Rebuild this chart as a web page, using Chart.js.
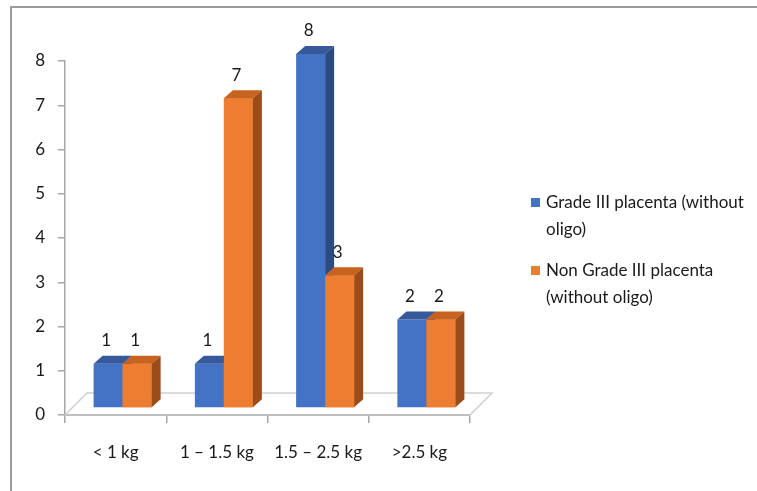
<!DOCTYPE html>
<html>
<head>
<meta charset="utf-8">
<script src="https://cdn.jsdelivr.net/npm/chart.js@4/dist/chart.umd.min.js"></script>
<style>
  body { margin: 0; background: #fff; }
  #wrap { width: 757px; height: 491px; }
</style>
</head>
<body>
<div id="wrap"><canvas id="chart" width="757" height="491"></canvas></div>
<script>
const categories = ["< 1 kg", "1 \u2013 1.5 kg", "1.5 \u2013 2.5 kg", ">2.5 kg"];
const gradeIII = [1, 1, 8, 2];
const nonGradeIII = [1, 7, 3, 2];
const seriesNames = ["Grade III placenta (without oligo)", "Non Grade III placenta (without oligo)"];
const legendLines = [["Grade III placenta (without", "oligo)"], ["Non Grade III placenta", "(without oligo)"]];
const yMin = 0, yMax = 8, yStep = 1;

const fronts = ['#4472C4', '#ED7D31'];
const tops = ['#36599C', '#C8621F'];
const sides = ['#2B4A80', '#9C4C18'];

const FONT = 'Lato, "Open Sans", sans-serif';
const TEXT = '#1a1a1a';
const DX = 9, DY = 8;             // bar depth
const SHIFT_X = 7, SHIFT_Y = -7;  // bars stand in the middle of the floor
const FLOOR = 22;                 // floor depth

function drawFaces(ctx, bar, i) {
  const p = bar.getProps(['x', 'y', 'base', 'width'], true);
  const l = p.x - p.width / 2, r = p.x + p.width / 2;
  ctx.fillStyle = tops[i];
  ctx.beginPath();
  ctx.moveTo(l, p.y);
  ctx.lineTo(l + DX, p.y - DY);
  ctx.lineTo(r + DX, p.y - DY);
  ctx.lineTo(r, p.y);
  ctx.closePath();
  ctx.fill();
  ctx.fillStyle = sides[i];
  ctx.beginPath();
  ctx.moveTo(r, p.y);
  ctx.lineTo(r + DX, p.y - DY);
  ctx.lineTo(r + DX, p.base - DY);
  ctx.lineTo(r, p.base);
  ctx.closePath();
  ctx.fill();
}

const bars3d = {
  id: 'bars3d',
  beforeDraw(chart) {
    const ctx = chart.ctx;
    ctx.save();
    ctx.strokeStyle = '#9b9b9b';
    ctx.lineWidth = 2;
    ctx.beginPath();
    ctx.moveTo(11, 491);
    ctx.lineTo(11, 7);
    ctx.lineTo(757, 7);
    ctx.stroke();
    ctx.restore();
  },
  beforeDatasetsDraw(chart) {
    const {ctx, scales: {x, y}} = chart;
    const y0 = y.getPixelForValue(0);
    ctx.save();
    ctx.strokeStyle = '#cfcfcf';
    ctx.lineWidth = 1.5;
    ctx.beginPath();
    ctx.moveTo(x.left, y0);
    ctx.lineTo(x.left + FLOOR, y0 - FLOOR);
    ctx.lineTo(x.right + FLOOR, y0 - FLOOR);
    ctx.lineTo(x.right, y0);
    ctx.stroke();
    ctx.restore();
    ctx.save();
    ctx.translate(SHIFT_X, SHIFT_Y);
  },
  afterDatasetsDraw(chart) {
    const ctx = chart.ctx;
    const metas = chart.data.datasets.map((d, i) => chart.getDatasetMeta(i));
    categories.forEach((c, j) => {
      metas.forEach((meta, i) => {
        if (i > 0) meta.data[j].draw(ctx);
        drawFaces(ctx, meta.data[j], i);
      });
    });
    // value labels
    ctx.fillStyle = TEXT;
    ctx.font = '17px ' + FONT;
    ctx.textAlign = 'center';
    ctx.textBaseline = 'middle';
    metas.forEach((meta, i) => {
      meta.data.forEach((bar, j) => {
        ctx.fillText(chart.data.datasets[i].data[j], bar.x - 2, bar.y - 23);
      });
    });
    ctx.restore();
  },
  afterDraw(chart) {
    // legend, wrapped like the original
    const ctx = chart.ctx;
    ctx.save();
    ctx.font = '17px ' + FONT;
    ctx.textAlign = 'left';
    ctx.textBaseline = 'middle';
    const firstY = [203, 271];
    legendLines.forEach((lines, i) => {
      ctx.fillStyle = fronts[i];
      ctx.fillRect(531, firstY[i] - 5, 9, 9);
      ctx.fillStyle = TEXT;
      lines.forEach((t, k) => ctx.fillText(t, 546, firstY[i] + k * 27));
    });
    ctx.restore();
  }
};

new Chart(document.getElementById('chart'), {
  type: 'bar',
  data: {
    labels: categories,
    datasets: [
      { label: seriesNames[0], data: gradeIII, backgroundColor: fronts[0] },
      { label: seriesNames[1], data: nonGradeIII, backgroundColor: fronts[1] }
    ]
  },
  options: {
    responsive: false,
    animation: false,
    layout: { padding: { top: 61, right: 287, bottom: 0, left: 0 } },
    datasets: { bar: { categoryPercentage: 0.573, barPercentage: 1, clip: false } },
    plugins: {
      legend: { display: false },
      tooltip: { enabled: false }
    },
    scales: {
      x: {
        afterFit(s) { s.height = 76; },
        grid: { offset: true, drawOnChartArea: false, tickLength: 8, color: '#a6a6a6', lineWidth: 1.5 },
        border: { color: '#bfbfbf', width: 2 },
        ticks: { color: TEXT, font: { family: FONT, size: 17 }, padding: 19, maxRotation: 0 }
      },
      y: {
        min: yMin,
        max: yMax,
        afterFit(s) { s.width = 65; },
        grid: { drawOnChartArea: false, tickLength: 7, color: '#a6a6a6', lineWidth: 1.5 },
        border: { color: '#a6a6a6', width: 1.5 },
        ticks: { stepSize: yStep, color: TEXT, font: { family: FONT, size: 17 }, padding: 13 }
      }
    }
  },
  plugins: [bars3d]
});
</script>
</body>
</html>
